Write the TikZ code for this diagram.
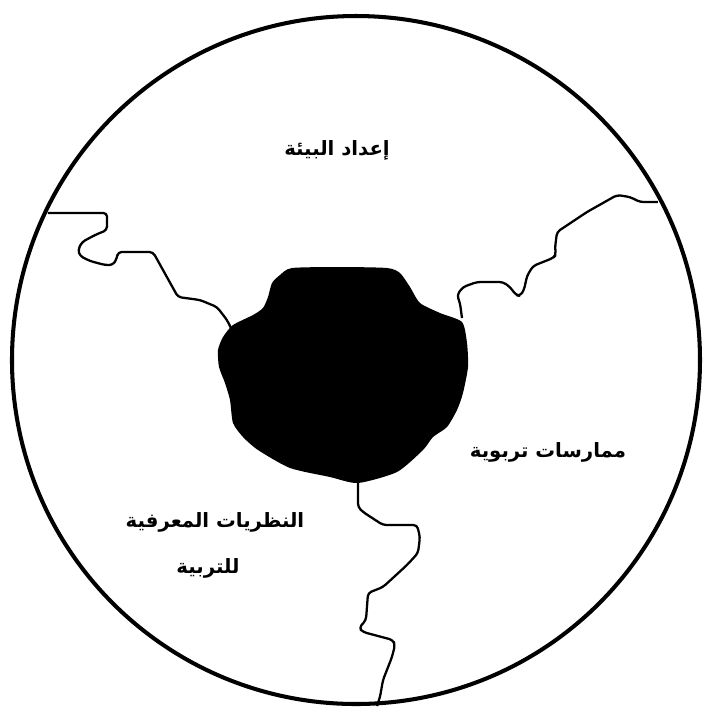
\documentclass[tikz,border=0pt]{standalone}
\usepackage{fontspec}
\newfontfamily\arabicfont[Script=Arabic]{DejaVu Sans}
\TeXXeTstate=1
\tikzset{
  region/.style={line width=0.65pt, line join=round, rounded corners=1pt},
  rim/.style={line width=1.15pt},
  label/.style={font=\arabicfont\bfseries\fontsize{5.6}{8}\selectfont, align=center, inner sep=0pt},
}
\begin{document}
\begin{tikzpicture}[x=0.01cm,y=-0.01cm]
\useasboundingbox (0,0) rectangle (709,714);
% outer circle
\draw[rim] (356,360) circle[radius=344];
% central black region
\fill[black] plot[smooth cycle, tension=0.4] coordinates {
 (292,268) (340,267) (387,268) (400,273) (410,287) (420,303) (440,313) (462,322)
 (467,343) (468,367) (463,393) (457,410) (447,427) (433,437) (423,450) (397,472)
 (358,483) (330,477) (290,468) (258,450) (243,437) (233,423) (230,400) (225,383)
 (219,367) (218,350) (223,337) (233,325) (253,315) (263,308) (268,297) (272,283) (280,275)};
% boundary lines
\draw[region] (48,213) -- (107,213) -- (107,230) -- (95,235) -- (82,242) -- (78,250)
  -- (80,256) -- (90,261) -- (105,265) -- (113,265) -- (117,258) -- (118,252)
  -- (153,252) -- (178,297) -- (200,300) -- (217,307) -- (227,320) -- (232,330);
\draw[region] (658,202) -- (640,202) -- (630,197) -- (617,195) -- (610,199) -- (587,212)
  -- (557,232) -- (555,248) -- (556,255) -- (553,258) -- (543,262) -- (533,266)
  -- (527,276) -- (524,290) -- (520,296) -- (516,295) -- (510,287) -- (503,282)
  -- (477,282) -- (463,287) -- (457,295) -- (460,303) -- (462,318);
\draw[region] (358,480) -- (358,507) -- (363,512) -- (383,525) -- (417,525) -- (420,537)
  -- (418,553) -- (407,565) -- (383,587) -- (368,593) -- (366,620) -- (359,628)
  -- (363,632) -- (393,640) -- (395,645) -- (392,657) -- (383,680) -- (380,697) -- (377,706);
% labels
\node[label] (top) at (337,150) {\beginR إعداد البيئة\endR};
\node[label] (right) at (548,452) {\beginR ممارسات تربوية\endR};
\node[label] (left1) at (215,522) {\beginR النظريات المعرفية\endR};
\node[label] (left2) at (208,568) {\beginR للتربية\endR};
\end{tikzpicture}
\end{document}
